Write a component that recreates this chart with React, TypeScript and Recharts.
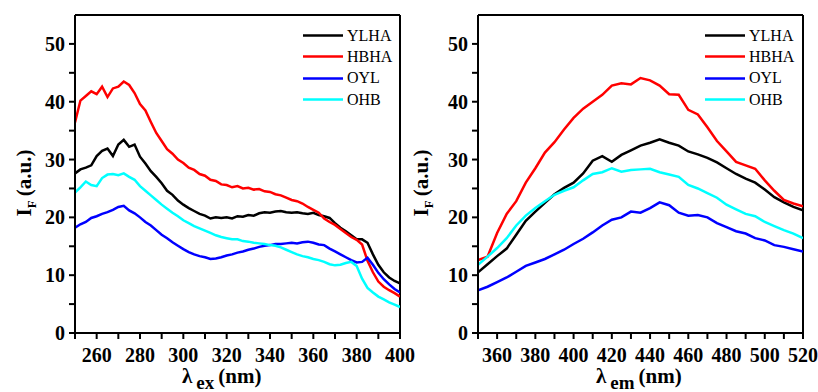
import React from 'react';
import { LineChart, Line, XAxis, YAxis, ReferenceLine, Legend } from 'recharts';

const seriesNames = ['YLHA', 'HBHA', 'OYL', 'OHB'];
const seriesColors = ['#000000', '#ff0000', '#0000ff', '#00ffff'];

// Excitation spectra (left)
const exX = [250, 252.5, 255, 257.5, 260, 262.5, 265, 267.5, 270, 272.5, 275, 277.5, 280, 282.5, 285, 287.5, 290, 292.5, 295, 297.5, 300, 302.5, 305, 307.5, 310, 312.5, 315, 317.5, 320, 322.5, 325, 327.5, 330, 332.5, 335, 337.5, 340, 342.5, 345, 347.5, 350, 352.5, 355, 357.5, 360, 362.5, 365, 367.5, 370, 372.5, 375, 377.5, 380, 382.5, 385, 387.5, 390, 392.5, 395, 397.5, 400];
const exYLHA = [27.6, 28.3, 28.6, 29.0, 30.6, 31.5, 31.9, 30.6, 32.6, 33.4, 32.2, 32.6, 30.5, 29.3, 28.0, 27.0, 25.9, 24.6, 23.9, 22.9, 22.2, 21.6, 21.1, 20.6, 20.3, 19.8, 20.0, 19.9, 20.0, 19.8, 20.2, 20.1, 20.4, 20.3, 20.7, 20.9, 20.8, 21.0, 21.1, 20.9, 20.8, 20.9, 20.7, 20.6, 20.8, 20.4, 20.2, 19.9, 19.0, 18.2, 17.6, 16.9, 16.2, 16.2, 15.6, 13.6, 11.8, 10.5, 9.6, 9.0, 8.6];
const exHBHA = [36.4, 40.2, 41.0, 41.8, 41.3, 42.6, 40.8, 42.3, 42.6, 43.5, 42.9, 41.5, 39.6, 38.5, 36.5, 34.6, 33.2, 31.8, 31.0, 30.0, 29.4, 28.6, 28.2, 27.5, 27.2, 26.5, 26.3, 25.7, 25.6, 25.2, 25.4, 25.0, 25.1, 24.8, 24.9, 24.5, 24.4, 24.0, 23.8, 23.4, 23.0, 22.8, 22.4, 21.8, 21.3, 20.8, 19.8, 19.2, 18.7, 18.0, 17.3, 16.6, 16.1, 15.3, 12.5, 10.5, 8.9, 8.0, 7.4, 6.9, 6.3];
const exOYL = [18.2, 18.8, 19.2, 19.9, 20.2, 20.6, 20.9, 21.3, 21.8, 22.0, 21.2, 20.7, 20.0, 19.2, 18.6, 17.8, 17.0, 16.4, 15.7, 15.1, 14.5, 14.0, 13.6, 13.3, 13.1, 12.8, 12.9, 13.1, 13.4, 13.6, 13.9, 14.1, 14.4, 14.6, 14.9, 15.1, 15.2, 15.4, 15.4, 15.5, 15.6, 15.5, 15.7, 15.8, 15.6, 15.3, 15.2, 14.6, 14.1, 13.6, 13.1, 12.6, 12.2, 12.3, 13.0, 11.8, 10.4, 9.3, 8.4, 7.6, 7.0];
const exOHB = [24.3, 25.2, 26.2, 25.6, 25.4, 26.8, 27.4, 27.5, 27.3, 27.6, 27.0, 26.5, 25.4, 24.6, 23.8, 23.0, 22.2, 21.5, 20.8, 20.2, 19.5, 19.0, 18.5, 18.1, 17.7, 17.3, 16.9, 16.6, 16.4, 16.2, 16.2, 15.9, 15.8, 15.6, 15.5, 15.4, 15.2, 15.1, 14.8, 14.4, 14.0, 13.6, 13.3, 13.1, 12.8, 12.6, 12.3, 11.9, 11.7, 11.8, 12.1, 12.3, 11.6, 9.4, 7.8, 7.0, 6.3, 5.8, 5.3, 4.9, 4.5];
const exTicks = [250, 260, 270, 280, 290, 300, 310, 320, 330, 340, 350, 360, 370, 380, 390, 400];

// Emission spectra (right)
const emX = [350, 355, 360, 365, 370, 375, 380, 385, 390, 395, 400, 405, 410, 415, 420, 425, 430, 435, 440, 445, 450, 455, 460, 465, 470, 475, 480, 485, 490, 495, 500, 505, 510, 515, 520];
const emYLHA = [10.5, 11.9, 13.3, 14.6, 17.0, 19.4, 21.0, 22.5, 24.0, 25.1, 26.0, 27.6, 29.8, 30.6, 29.6, 30.8, 31.6, 32.4, 32.9, 33.5, 32.9, 32.4, 31.4, 30.9, 30.3, 29.5, 28.5, 27.5, 26.7, 26.0, 24.8, 23.5, 22.6, 21.8, 21.2];
const emHBHA = [12.6, 13.2, 17.3, 20.6, 22.8, 26.0, 28.5, 31.2, 33.0, 35.2, 37.2, 38.8, 40.0, 41.2, 42.8, 43.2, 43.0, 44.1, 43.7, 42.8, 41.3, 41.2, 38.6, 37.8, 35.6, 33.2, 31.4, 29.6, 29.0, 28.4, 26.4, 24.6, 23.0, 22.4, 21.9];
const emOYL = [7.4, 8.0, 8.8, 9.6, 10.6, 11.6, 12.2, 12.8, 13.6, 14.4, 15.4, 16.3, 17.4, 18.6, 19.6, 20.0, 21.0, 20.8, 21.6, 22.6, 22.1, 20.8, 20.3, 20.4, 20.0, 19.0, 18.3, 17.6, 17.2, 16.4, 16.0, 15.2, 14.9, 14.5, 14.1];
const emOHB = [11.8, 13.2, 14.7, 16.4, 18.6, 20.3, 21.6, 22.8, 23.9, 24.6, 25.2, 26.4, 27.5, 27.8, 28.5, 27.9, 28.2, 28.3, 28.4, 27.8, 27.4, 27.0, 25.6, 25.0, 24.2, 23.4, 22.2, 21.4, 20.6, 20.2, 19.2, 18.5, 17.8, 17.2, 16.4];
const emTicks = [350, 360, 370, 380, 390, 400, 410, 420, 430, 440, 450, 460, 470, 480, 490, 500, 510, 520];

const yTicks = [0, 5, 10, 15, 20, 25, 30, 35, 40, 45, 50];

const exData = exX.map((x, i) => ({ x, YLHA: exYLHA[i], HBHA: exHBHA[i], OYL: exOYL[i], OHB: exOHB[i] }));
const emData = emX.map((x, i) => ({ x, YLHA: emYLHA[i], HBHA: emHBHA[i], OYL: emOYL[i], OHB: emOHB[i] }));

const FONT = 'Liberation Serif';
const tickStyle = { fill: '#000', fontSize: 20, fontWeight: 700, fontFamily: FONT };

const LegendBox = () => (
  <div style={{ fontFamily: FONT, fontSize: 16, color: '#000' }}>
    {seriesNames.map((n, i) => (
      <div key={n} style={{ display: 'flex', alignItems: 'center', height: 21.3 }}>
        <svg width={40} height={21} style={{ display: 'block' }}>
          <line x1={0} x2={40} y1={10.5} y2={10.5} stroke={seriesColors[i]} strokeWidth={2.6} />
        </svg>
        <span style={{ marginLeft: 4, fontFamily: FONT }}>{n}</span>
      </div>
    ))}
  </div>
);

function Spectrum({ data, ticks, domain, width, marginRight, yAxisWidth, legendLeft }: any) {
  const xFmt = (v: number) => (v % 20 === 0 && v !== domain[0] ? String(v) : '');
  const yFmt = (v: number) => (v % 10 === 0 ? String(v) : '');
  return (
    <LineChart width={width} height={392} data={data} margin={{ top: 15, right: marginRight, bottom: 29, left: 0 }}>
      <XAxis
        dataKey="x"
        type="number"
        domain={domain}
        ticks={ticks}
        interval={0}
        allowDataOverflow
        height={30}
        tickFormatter={xFmt}
        tick={tickStyle}
        tickSize={6}
        tickMargin={9}
        axisLine={{ stroke: '#000', strokeWidth: 2 }}
        tickLine={{ stroke: '#000', strokeWidth: 2 }}
      />
      <YAxis
        type="number"
        domain={[0, 55]}
        ticks={yTicks}
        interval={0}
        allowDataOverflow
        width={yAxisWidth}
        tickFormatter={yFmt}
        tick={tickStyle}
        tickSize={6}
        tickMargin={4}
        axisLine={{ stroke: '#000', strokeWidth: 2 }}
        tickLine={{ stroke: '#000', strokeWidth: 2 }}
      />
      <ReferenceLine y={55} stroke="#000" strokeWidth={2} />
      <ReferenceLine x={domain[1]} stroke="#000" strokeWidth={2} />
      <Legend
        layout="vertical"
        align="center"
        verticalAlign="middle"
        content={<LegendBox />}
        wrapperStyle={{ position: 'absolute', top: 25, left: legendLeft, width: 'auto', height: 'auto' }}
      />
      {seriesNames.map((n, i) => (
        <Line
          key={n}
          dataKey={n}
          stroke={seriesColors[i]}
          strokeWidth={2.5}
          dot={false}
          isAnimationActive={false}
          type="linear"
        />
      ))}
    </LineChart>
  );
}

export default function App() {
  return (
    <div style={{ position: 'absolute', left: 0, top: 0, width: 818, height: 392, background: '#fff', overflow: 'hidden' }}>
      <div style={{ position: 'absolute', left: 0, top: 0 }}>
        <Spectrum data={exData} ticks={exTicks} domain={[250, 400]} width={425} marginRight={25} yAxisWidth={75} legendLeft={303} />
      </div>
      <div style={{ position: 'absolute', left: 410, top: 0 }}>
        <Spectrum data={emData} ticks={emTicks} domain={[350, 520]} width={408} marginRight={15} yAxisWidth={68} legendLeft={295} />
      </div>
      <svg width={818} height={392} style={{ position: 'absolute', left: 0, top: 0, pointerEvents: 'none' }}>
        <text x={182} y={383} fontSize={21} fontFamily={FONT} fontWeight={700} fill="#000">
          λ<tspan dx={4} dy={6} fontSize={19}>ex</tspan>
          <tspan dx={4} dy={-6} fontSize={21}>(nm)</tspan>
        </text>
        <text x={596} y={383} fontSize={21} fontFamily={FONT} fontWeight={700} fill="#000">
          λ<tspan dx={4} dy={6} fontSize={19}>em</tspan>
          <tspan dx={4} dy={-6} fontSize={21}>(nm)</tspan>
        </text>
        <text x={31} y={183} fontSize={21} fontFamily={FONT} fontWeight={700} fill="#000" textAnchor="middle" transform="rotate(-90 31 183)">
          I<tspan dy={5} fontSize={13}>F</tspan>
          <tspan dx={4} dy={-5} fontSize={21}>(a.u.)</tspan>
        </text>
        <text x={428} y={183} fontSize={21} fontFamily={FONT} fontWeight={700} fill="#000" textAnchor="middle" transform="rotate(-90 428 183)">
          I<tspan dy={5} fontSize={13}>F</tspan>
          <tspan dx={4} dy={-5} fontSize={21}>(a.u.)</tspan>
        </text>
      </svg>
    </div>
  );
}
